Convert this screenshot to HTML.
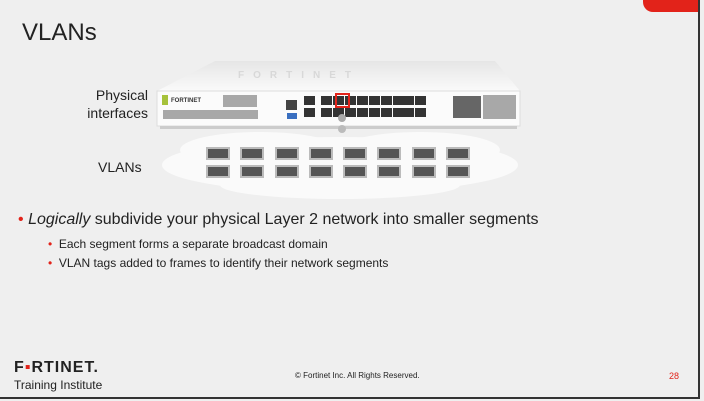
<!DOCTYPE html>
<html><head><style>
body{margin:0;width:704px;height:401px;overflow:hidden;background:#efefef;font-family:"Liberation Sans",sans-serif;}
.t{position:absolute;color:#222;}
</style></head><body>
<div style="position:absolute;left:0;top:0;width:704px;height:401px;">
<div style="position:absolute;left:643px;top:0;width:55px;height:12px;background:#e2231a;border-bottom-left-radius:10px;"></div>
<div style="position:absolute;left:698px;top:0;width:2px;height:399px;background:#333;"></div>
<div style="position:absolute;left:0;top:397px;width:700px;height:2px;background:#333;"></div>
<div class="t" style="left:22px;top:19px;font-size:24px;">VLANs</div>
<div class="t" style="left:60px;top:86px;font-size:14px;text-align:right;width:88px;line-height:18px;">Physical<br>interfaces</div>
<div class="t" style="left:98px;top:159px;font-size:14px;">VLANs</div>
<svg width="704" height="401" style="position:absolute;left:0;top:0">
<defs><linearGradient id="g" x1="0" y1="0" x2="0" y2="1"><stop offset="0" stop-color="#e6e6e6"/><stop offset="1" stop-color="#fafafa"/></linearGradient></defs>
<polygon points="215,61 495,61 520,91 157,91" fill="url(#g)"/>
<text x="238" y="78" font-size="10" fill="#d8d8d8" font-family="Liberation Sans" letter-spacing="9" font-weight="bold">FORTINET</text>
<rect x="157" y="91" width="363" height="35" fill="#fbfbfb" stroke="#ddd"/>
<rect x="160" y="126" width="357" height="3" fill="#ccc"/>
<rect x="162" y="95" width="6" height="10" fill="#a6c23b"/>
<text x="171" y="102" font-size="6" font-weight="bold" fill="#333" font-family="Liberation Sans">FORTINET</text>
<g fill="#555">
<rect x="223" y="95" width="34" height="12" opacity=".5"/><rect x="163" y="110" width="95" height="9" opacity=".5"/>
<rect x="483" y="95" width="33" height="24" opacity=".5"/>
</g>
<rect x="286" y="100" width="11" height="10" fill="#444"/><rect x="287" y="113" width="10" height="6" fill="#3a6fc0"/>
<g fill="#333">
<rect x="304" y="96" width="11" height="9"/><rect x="304" y="108" width="11" height="9"/>
<rect x="321" y="96" width="11" height="9"/><rect x="321" y="108" width="11" height="9"/>
<rect x="333" y="96" width="11" height="9"/><rect x="333" y="108" width="11" height="9"/>
<rect x="345" y="96" width="11" height="9"/><rect x="345" y="108" width="11" height="9"/>
<rect x="357" y="96" width="11" height="9"/><rect x="357" y="108" width="11" height="9"/>
<rect x="369" y="96" width="11" height="9"/><rect x="369" y="108" width="11" height="9"/>
<rect x="381" y="96" width="11" height="9"/><rect x="381" y="108" width="11" height="9"/>
<rect x="393" y="96" width="11" height="9"/><rect x="393" y="108" width="11" height="9"/>
<rect x="403" y="96" width="11" height="9"/><rect x="403" y="108" width="11" height="9"/>
<rect x="415" y="96" width="11" height="9"/><rect x="415" y="108" width="11" height="9"/>
<rect x="453" y="96" width="28" height="22" fill="#666"/>
</g>
<rect x="336" y="94" width="13" height="13" fill="none" stroke="#e2231a" stroke-width="2"/>
<circle cx="342" cy="118" r="4" fill="#aaa"/><circle cx="342" cy="129" r="4" fill="#bbb"/>
<g fill="#fafafa">
<ellipse cx="340" cy="165" rx="178" ry="28"/>
<ellipse cx="260" cy="150" rx="80" ry="18"/><ellipse cx="420" cy="150" rx="80" ry="18"/>
<ellipse cx="340" cy="185" rx="120" ry="14"/>
</g>
<g fill="#555" stroke="#bbb" stroke-width="2">
<rect x="207" y="148" width="22" height="11"/><rect x="241" y="148" width="22" height="11"/><rect x="276" y="148" width="22" height="11"/><rect x="310" y="148" width="22" height="11"/><rect x="344" y="148" width="22" height="11"/><rect x="378" y="148" width="22" height="11"/><rect x="413" y="148" width="22" height="11"/><rect x="447" y="148" width="22" height="11"/>
<rect x="207" y="166" width="22" height="11"/><rect x="241" y="166" width="22" height="11"/><rect x="276" y="166" width="22" height="11"/><rect x="310" y="166" width="22" height="11"/><rect x="344" y="166" width="22" height="11"/><rect x="378" y="166" width="22" height="11"/><rect x="413" y="166" width="22" height="11"/><rect x="447" y="166" width="22" height="11"/>
</g>
</svg>
<div class="t" style="left:18px;top:211px;font-size:16px;"><span style="color:#e2231a">•</span>&nbsp;<i>Logically</i> subdivide your physical Layer 2 network into smaller segments</div>
<div class="t" style="left:48px;top:237px;font-size:12px;"><span style="color:#e2231a">•</span>&nbsp; Each segment forms a separate broadcast domain</div>
<div class="t" style="left:48px;top:256px;font-size:12px;"><span style="color:#e2231a">•</span>&nbsp; VLAN tags added to frames to identify their network segments</div>
<div class="t" style="left:14px;top:359px;font-size:16px;font-weight:bold;letter-spacing:1px;">F<span style="color:#e2231a">▪</span>RTINET.</div>
<div class="t" style="left:14px;top:378px;font-size:12px;">Training Institute</div>
<div class="t" style="left:295px;top:371px;font-size:8px;">© Fortinet Inc. All Rights Reserved.</div>
<div class="t" style="left:669px;top:371px;font-size:9px;color:#e2231a;">28</div>
</div>
</body></html>
